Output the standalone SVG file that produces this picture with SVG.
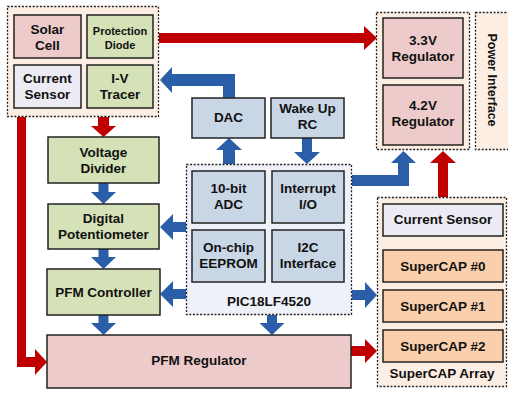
<svg xmlns="http://www.w3.org/2000/svg" width="508" height="393" viewBox="0 0 508 393">
<style>
.grp{fill:#fdeee4;stroke:#222;stroke-width:1.3;stroke-dasharray:2 1.6}
.pic{fill:#eef1f7;stroke:#222;stroke-width:1.3;stroke-dasharray:2 1.6}
.box{stroke:#222;stroke-width:1.5}
.pink{fill:#edcbcb}
.green{fill:#d5e1b6}
.lav{fill:#ecebf3}
.blue{fill:#c9d6e6}
.orange{fill:#f9d0ab}
text{font-family:"Liberation Sans",Arial,sans-serif;font-weight:bold;font-size:13.5px;fill:#111;text-anchor:middle}
.sm{font-size:11px}
.red{fill:#c00000}
.bl{fill:#2a5ea9}
</style>
<rect width="508" height="393" fill="#fff"/>

<g id="connectors">
<path class="red" d="M159,33 H364 V26 L377,38 L364,50 V43 H159 Z"/>
<path class="red" d="M98,117 V126 H91 L103.5,137 L116,126 H109 V117 Z"/>
<path class="red" d="M17,117 H26 V357 H35 V349 L47,362 L35,375 V367 H17 Z"/>
<path class="red" d="M438,197 V163 H430 L443,151 L456,163 H448 V197 Z"/>
<path class="red" d="M351,346 H365 V339 L377,351 L365,363 V356 H351 Z"/>
<path class="bl" d="M223,98 V86 H172 V93 L160,80 L172,67 V74 H235 V98 Z"/>
<path class="bl" d="M223,164 V150 H216 L229,138 L242,150 H235 V164 Z"/>
<path class="bl" d="M302,138 V152 H294 L307,164 L320,152 H312 V138 Z"/>
<path class="bl" d="M352,175 H398 V163 H391 L403.5,151 L416,163 H409 V186 H352 Z"/>
<path class="bl" d="M186,222 H173 V214 L160,227 L173,240 V232 H186 Z"/>
<path class="bl" d="M186,289 H173 V281 L160,294 L173,307 V299 H186 Z"/>
<path class="bl" d="M352,290 H365 V282 L377,295 L365,308 V300 H352 Z"/>
<path class="bl" d="M98.5,183 V192 H91 L103.5,204 L116,192 H108.5 V183 Z"/>
<path class="bl" d="M98.5,249 V257 H91 L103.5,269 L116,257 H108.5 V249 Z"/>
<path class="bl" d="M98.5,315 V323 H91 L103.5,335 L116,323 H108.5 V315 Z"/>
<path class="bl" d="M267,315 V323 H259.5 L272,335 L284.5,323 H277 V315 Z"/>
</g>

<g id="solar-group"><rect class="grp" x="7.5" y="6.5" width="151" height="110"/></g>
<g id="solar-cell"><rect class="box pink" x="14" y="15" width="67" height="43"/><text x="47.5" y="33.5">Solar</text><text x="47.5" y="49.5">Cell</text></g>
<g id="protection-diode"><rect class="box green" x="87" y="15" width="66" height="43"/><text class="sm" x="120" y="35">Protection</text><text class="sm" x="120" y="48.5">Diode</text></g>
<g id="current-sensor-1"><rect class="box lav" x="14" y="65" width="67" height="43"/><text x="47.5" y="82.5">Current</text><text x="47.5" y="98.5">Sensor</text></g>
<g id="iv-tracer"><rect class="box green" x="87" y="65" width="66" height="43"/><text x="120" y="82.5">I-V</text><text x="120" y="98.5">Tracer</text></g>

<g id="power-group"><rect class="grp" x="376.5" y="12.5" width="93" height="137"/></g>
<g id="reg33"><rect class="box pink" x="383" y="18" width="80" height="60"/><text x="423" y="45">3.3V</text><text x="423" y="61">Regulator</text></g>
<g id="reg42"><rect class="box pink" x="383" y="85" width="80" height="60"/><text x="423" y="110">4.2V</text><text x="423" y="126">Regulator</text></g>
<g id="power-interface"><rect class="grp" x="475.5" y="12.5" width="40" height="137"/><text style="font-size:12.5px" transform="translate(488,80) rotate(90)">Power Interface</text></g>

<g id="dac"><rect class="box blue" x="192" y="98" width="73" height="40"/><text x="228.5" y="122">DAC</text></g>
<g id="wakeup-rc"><rect class="box blue" x="271" y="98" width="73" height="40"/><text x="307.5" y="113">Wake Up</text><text x="307.5" y="129">RC</text></g>

<g id="voltage-divider"><rect class="box green" x="48" y="137" width="111" height="46"/><text x="103.5" y="157">Voltage</text><text x="103.5" y="173">Divider</text></g>
<g id="digital-pot"><rect class="box green" x="48" y="204" width="111" height="45"/><text x="103.5" y="223">Digital</text><text x="103.5" y="239">Potentiometer</text></g>
<g id="pfm-controller"><rect class="box green" x="47" y="269" width="113" height="46"/><text x="103.5" y="297">PFM Controller</text></g>
<g id="pfm-regulator"><rect class="box pink" x="47" y="335" width="304" height="53"/><text x="199" y="365">PFM Regulator</text></g>

<g id="pic"><rect class="pic" x="186.5" y="164.5" width="165" height="150"/><text x="269" y="306">PIC18LF4520</text></g>
<g id="adc"><rect class="box blue" x="192" y="171" width="73" height="52"/><text x="228.5" y="193">10-bit</text><text x="228.5" y="209">ADC</text></g>
<g id="interrupt-io"><rect class="box blue" x="272" y="171" width="72" height="52"/><text x="308" y="193">Interrupt</text><text x="308" y="209">I/O</text></g>
<g id="eeprom"><rect class="box blue" x="192" y="230" width="73" height="52"/><text x="228.5" y="252">On-chip</text><text x="228.5" y="268">EEPROM</text></g>
<g id="i2c"><rect class="box blue" x="272" y="230" width="72" height="52"/><text x="308" y="252">I2C</text><text x="308" y="268">Interface</text></g>

<g id="supercap-array"><rect class="grp" x="377.5" y="197.5" width="129" height="189"/><text x="442" y="378">SuperCAP Array</text></g>
<g id="current-sensor-2"><rect class="box lav" x="383" y="204" width="120" height="32"/><text x="443" y="224">Current Sensor</text></g>
<g id="supercap0"><rect class="box orange" x="383" y="250" width="120" height="32"/><text x="443" y="271">SuperCAP #0</text></g>
<g id="supercap1"><rect class="box orange" x="383" y="290" width="120" height="32"/><text x="443" y="311">SuperCAP #1</text></g>
<g id="supercap2"><rect class="box orange" x="383" y="330" width="120" height="32"/><text x="443" y="351">SuperCAP #2</text></g>
</svg>
